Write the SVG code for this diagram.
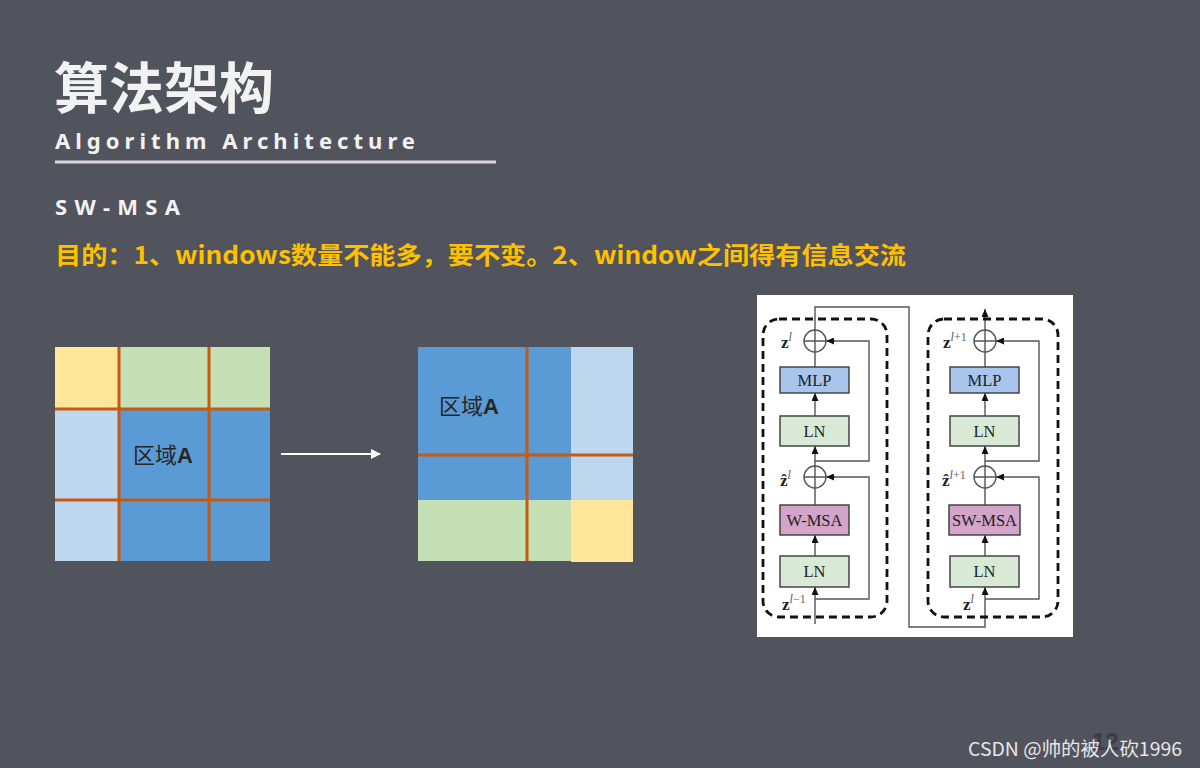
<svg xmlns="http://www.w3.org/2000/svg" width="1200" height="768" viewBox="0 0 1200 768">
<style>
.cjk{font-family:"Noto Sans CJK SC","Liberation Sans",sans-serif}
.lat{font-family:"Noto Sans","Liberation Sans","Noto Sans CJK SC",sans-serif}
.grid{stroke:#C55A11;stroke-width:3}
.rl{font-family:"Noto Sans CJK SC",sans-serif;font-size:22px;fill:#262626}
.box{stroke:#444;stroke-width:1.5}
.bt{font-family:"Liberation Serif","Times New Roman",serif;font-size:16.5px;fill:#222;text-anchor:middle}
.ln{fill:none;stroke:#555;stroke-width:1.4}
.dash{fill:none;stroke:#111;stroke-width:2.8;stroke-dasharray:8 5}
.mz{font-family:"Liberation Serif","DejaVu Serif",serif;font-size:17px;fill:#222;font-weight:bold}
.sup{font-size:12px;font-weight:normal;font-style:italic;fill:#555}
.supn{font-size:12px;font-weight:normal;fill:#666}
</style>
<defs>
<marker id="ah" markerUnits="userSpaceOnUse" markerWidth="8" markerHeight="7" refX="8" refY="3.5" orient="auto"><path d="M0,0 L8,3.5 L0,7 z" fill="#111"/></marker>
<marker id="wa" markerUnits="userSpaceOnUse" markerWidth="10" markerHeight="10" refX="9" refY="5" orient="auto"><path d="M0,0 L10,5 L0,10 z" fill="#ffffff"/></marker>
</defs>
<rect width="1200" height="768" fill="#51545d"/>

<g id="header">
<text x="54" y="108" class="cjk" font-size="55" font-weight="bold" fill="#f2f2f2">算法架构</text>
<text x="55" y="149" class="lat" font-size="22" font-weight="bold" fill="#f2f2f2" textLength="360" lengthAdjust="spacing">Algorithm Architecture</text>
<line x1="55" y1="162" x2="496" y2="162" stroke="#d9d9d9" stroke-width="3"/>
<text x="55" y="215" class="lat" font-size="22" font-weight="bold" fill="#f2f2f2" textLength="125" lengthAdjust="spacing">SW-MSA</text>
<text x="55" y="264" class="cjk" font-size="24" font-weight="bold" fill="#FFC000" textLength="851" lengthAdjust="spacingAndGlyphs">目的：1、windows数量不能多，要不变。2、window之间得有信息交流</text>
</g>

<g id="grid-before">
<rect x="55" y="347" width="64" height="62" fill="#FFE699"/>
<rect x="119" y="347" width="151" height="62" fill="#C5E0B4"/>
<rect x="55" y="409" width="64" height="152" fill="#BDD7EE"/>
<rect x="119" y="409" width="151" height="152" fill="#5B9BD5"/>
<line x1="119" y1="347" x2="119" y2="561" class="grid"/>
<line x1="209" y1="347" x2="209" y2="561" class="grid"/>
<line x1="55" y1="409" x2="270" y2="409" class="grid"/>
<line x1="55" y1="500" x2="270" y2="500" class="grid"/>
<text x="133" y="463" class="rl">区域<tspan font-family="Liberation Sans,sans-serif" font-weight="bold">A</tspan></text>
</g>

<g id="shift-arrow">
<line x1="281" y1="454" x2="380" y2="454" stroke="#ffffff" stroke-width="2" marker-end="url(#wa)"/>
</g>

<g id="grid-after">
<rect x="418" y="347" width="153" height="153" fill="#5B9BD5"/>
<rect x="571" y="347" width="62" height="153" fill="#BDD7EE"/>
<rect x="418" y="500" width="153" height="61" fill="#C5E0B4"/>
<rect x="571" y="500" width="62" height="62" fill="#FFE699"/>
<line x1="527" y1="347" x2="527" y2="561" class="grid"/>
<line x1="418" y1="455" x2="633" y2="455" class="grid"/>
<text x="439" y="414" class="rl">区域<tspan font-family="Liberation Sans,sans-serif" font-weight="bold">A</tspan></text>
</g>

<g id="swin-panel">
<rect x="757" y="295" width="316" height="342" fill="#ffffff"/>
</g>

<g id="connectors">
<path class="ln" d="M815,624 V587" marker-end="url(#ah)"/>
<path class="ln" d="M815,556 V535" marker-end="url(#ah)"/>
<path class="ln" d="M815,505 V488"/>
<path class="ln" d="M815,466 V446" marker-end="url(#ah)"/>
<path class="ln" d="M815,416 V393" marker-end="url(#ah)"/>
<path class="ln" d="M815,367 V352"/>
<path class="ln" d="M815,330 V307 H909 V627 H985 V587" marker-end="url(#ah)"/>
<path class="ln" d="M815,599 H869 V477 H826" marker-end="url(#ah)"/>
<path class="ln" d="M815,461 H869 V341 H826" marker-end="url(#ah)"/>
<path class="ln" d="M985,556 V535" marker-end="url(#ah)"/>
<path class="ln" d="M985,505 V488"/>
<path class="ln" d="M985,466 V446" marker-end="url(#ah)"/>
<path class="ln" d="M985,416 V393" marker-end="url(#ah)"/>
<path class="ln" d="M985,367 V352"/>
<path class="ln" d="M985,330 V309" marker-end="url(#ah)"/>
<path class="ln" d="M985,599 H1039 V477 H996" marker-end="url(#ah)"/>
<path class="ln" d="M985,461 H1039 V341 H996" marker-end="url(#ah)"/>
</g>

<g id="block-left">
<rect x="763" y="319" width="124" height="298" rx="16" class="dash"/>
<circle cx="815" cy="341" r="11" fill="#fff" stroke="#555" stroke-width="1.4"/>
<path d="M804,341 H826 M815,330 V352" stroke="#555" stroke-width="1.4"/>
<circle cx="815" cy="477" r="11" fill="#fff" stroke="#555" stroke-width="1.4"/>
<path d="M804,477 H826 M815,466 V488" stroke="#555" stroke-width="1.4"/>
<rect x="780" y="367" width="69" height="26" fill="#a9c5ec" class="box"/>
<text x="814.5" y="386" class="bt">MLP</text>
<rect x="780" y="416" width="69" height="30" fill="#d8ead6" class="box"/>
<text x="814.5" y="437" class="bt">LN</text>
<rect x="780" y="505" width="69" height="30" fill="#d3a5cb" class="box"/>
<text x="814.5" y="526" class="bt">W-MSA</text>
<rect x="780" y="556" width="69" height="31" fill="#d8ead6" class="box"/>
<text x="814.5" y="577" class="bt">LN</text>
<text x="781" y="348" class="mz">z<tspan class="sup" dy="-7">l</tspan></text>
<text x="780" y="486" class="mz">ẑ<tspan class="sup" dy="-7">l</tspan></text>
<text x="782" y="610" class="mz">z<tspan class="sup" dy="-7">l</tspan><tspan class="supn">−1</tspan></text>
</g>

<g id="block-right">
<rect x="928" y="319" width="130" height="298" rx="16" class="dash"/>
<circle cx="985" cy="341" r="11" fill="#fff" stroke="#555" stroke-width="1.4"/>
<path d="M974,341 H996 M985,330 V352" stroke="#555" stroke-width="1.4"/>
<circle cx="985" cy="477" r="11" fill="#fff" stroke="#555" stroke-width="1.4"/>
<path d="M974,477 H996 M985,466 V488" stroke="#555" stroke-width="1.4"/>
<rect x="950" y="367" width="69" height="26" fill="#a9c5ec" class="box"/>
<text x="984.5" y="386" class="bt">MLP</text>
<rect x="950" y="416" width="69" height="30" fill="#d8ead6" class="box"/>
<text x="984.5" y="437" class="bt">LN</text>
<rect x="949" y="505" width="71" height="30" fill="#d3a5cb" class="box"/>
<text x="984.5" y="526" class="bt">SW-MSA</text>
<rect x="950" y="556" width="69" height="31" fill="#d8ead6" class="box"/>
<text x="984.5" y="577" class="bt">LN</text>
<text x="943" y="348" class="mz">z<tspan class="sup" dy="-7">l</tspan><tspan class="supn">+1</tspan></text>
<text x="942" y="486" class="mz">ẑ<tspan class="sup" dy="-7">l</tspan><tspan class="supn">+1</tspan></text>
<text x="963" y="610" class="mz">z<tspan class="sup" dy="-7">l</tspan></text>
</g>

<g id="footer">
<text x="1092" y="750" font-family="Liberation Sans,sans-serif" font-size="24" font-weight="bold" fill="#3a3c42">12</text>
<text x="968" y="756" class="cjk" font-size="19" fill="#e6e6e6" textLength="214" lengthAdjust="spacingAndGlyphs">CSDN @帅的被人砍1996</text>
</g>
</svg>
